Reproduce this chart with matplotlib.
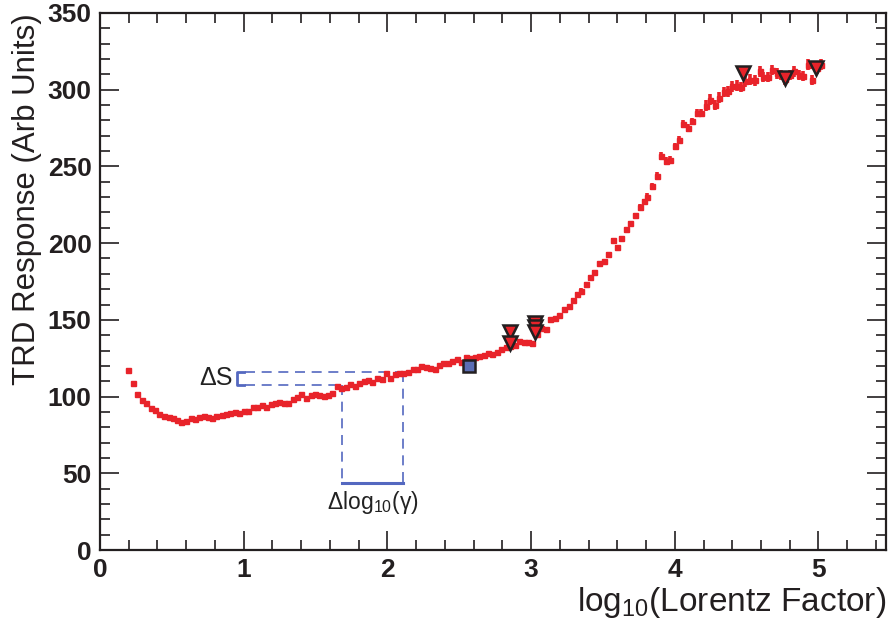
import matplotlib
matplotlib.use("Agg")
import matplotlib.pyplot as plt
from matplotlib.ticker import MultipleLocator

plt.rcParams["font.family"] = ["Liberation Sans", "DejaVu Sans"]
plt.rcParams["mathtext.fontset"] = "custom"
plt.rcParams["mathtext.rm"] = "Liberation Sans"
plt.rcParams["mathtext.it"] = "Liberation Sans:italic"

# TRD response vs log10(gamma)
log_gamma = [
    0.197, 0.227, 0.255, 0.29, 0.32, 0.355, 0.38, 0.41, 0.447, 0.48,
    0.51, 0.537, 0.563, 0.598, 0.63, 0.66, 0.69, 0.723, 0.753, 0.78,
    0.81, 0.846, 0.876, 0.904, 0.94, 0.97, 1.0, 1.03, 1.066, 1.094,
    1.124, 1.154, 1.187, 1.217, 1.247, 1.28, 1.31, 1.34, 1.372, 1.40,
    1.433, 1.465, 1.495, 1.525, 1.558, 1.588, 1.618, 1.65, 1.68, 1.71,
    1.743, 1.773, 1.803, 1.836, 1.866, 1.896, 1.928, 1.96, 1.99, 2.02,
    2.05, 2.08, 2.11, 2.14, 2.175, 2.207, 2.237, 2.267, 2.30, 2.33,
    2.36, 2.39, 2.42, 2.45, 2.485, 2.515, 2.545, 2.578, 2.608, 2.638,
    2.67, 2.70, 2.73, 2.763, 2.793, 2.823, 2.856, 2.886, 2.916, 2.948,
    2.978, 3.009, 3.04, 3.07, 3.106, 3.134, 3.164, 3.194,
    3.227, 3.261, 3.29, 3.32, 3.35, 3.385, 3.41, 3.44, 3.47, 3.507,
    3.535, 3.57, 3.597, 3.628, 3.663, 3.69, 3.725, 3.755, 3.786,
    3.81, 3.84, 3.875, 3.905, 3.936, 3.97, 4.0, 4.03, 4.06, 4.09,
    4.12, 4.154, 4.184,
    4.214, 4.247, 4.277, 4.307, 4.34, 4.37, 4.40, 4.43, 4.46, 4.49,
    4.525, 4.555, 4.59, 4.617, 4.648, 4.68, 4.71, 4.74, 4.77, 4.80,
    4.83, 4.863, 4.895, 4.925, 4.956, 4.988, 5.018,
]
response = [
    117.3, 109, 102, 97.8, 96, 92.4, 91.3, 88.4, 87.4, 86.5,
    85.8, 84.8, 83.6, 84.3, 85.8, 85.2, 86.5, 87.4, 86.5, 85.8,
    87.4, 88, 88.7, 89.1, 90.2, 89.5, 90.8, 90.8, 93, 93.4,
    94.5, 93.4, 95.2, 95.8, 96.7, 95.6, 96, 98.4, 99.5, 101.7,
    98.9, 101, 101.7, 101, 100.4, 101, 102.2, 106.9, 105.4, 106,
    108, 106.9, 109, 110.4, 110.8, 109.7, 112.3, 111.5, 115.2, 111.9,
    114.7, 115.6, 115.6, 116.2, 117.8, 118, 120, 119.3, 118.4, 117.8,
    120.6, 122.1, 122.1, 123.4, 124.3, 122.8, 125.6, 125, 126, 126.5,
    127.1, 128.6, 127.8, 129.3, 130.8, 132.1, 133, 133.6, 136.4, 135.8,
    135.8, 134.7, 141, 145, 143.9, 150.4, 151.5, 153.2,
    156.9, 159, 163, 166.7, 169, 173.2, 177.7, 181, 186.9, 188.4,
    193, 202, 197.3, 203.2, 209, 213, 218.4, 223.8, 227.2,
    230, 237, 243.6, 256.6, 253.6, 254.2, 263, 267.5, 277.7, 275.2,
    279.3, 284.7, 285,
    289.5, 293.5, 290, 294.7, 298.5, 299, 302.2, 302.6, 301.8, 305.5,
    306.6, 306.1, 312, 308.3, 308.3, 312.9, 310.7, 309.6, 306.8, 309.6,
    312, 309.6, 309, 316.2, 306.4, 314, 316.2,
]
response_err = [
    0.6, 0.6, 0.6, 0.6, 0.6, 0.6, 0.6, 0.6, 0.6, 0.6,
    0.6, 0.6, 0.6, 0.6, 0.6, 0.6, 0.6, 0.6, 0.6, 0.6,
    0.6, 0.6, 0.6, 0.6, 0.6, 0.6, 0.6, 0.6, 0.6, 0.6,
    0.6, 0.6, 0.6, 0.6, 0.6, 0.6, 0.6, 0.6, 0.6, 0.6,
    0.6, 0.6, 0.6, 0.6, 0.6, 0.6, 0.6, 0.6, 0.6, 0.6,
    0.6, 0.6, 0.6, 0.6, 0.6, 0.6, 0.6, 0.6, 0.6, 0.6,
    0.6, 0.6, 0.6, 0.6, 0.6, 0.6, 0.6, 0.6, 0.6, 0.6,
    0.6, 0.6, 0.6, 0.6, 0.6, 0.6, 0.6, 0.6, 0.6, 0.6,
    0.6, 0.6, 0.6, 0.6, 0.6, 0.6, 0.6, 0.6, 0.6, 0.6,
    0.6, 0.6, 0.6, 0.6, 0.6, 0.6, 0.6, 0.6,
    1.5, 1.5, 1.5, 1.5, 1.5, 1.5, 1.5, 1.5, 1.5, 1.5,
    1.5, 1.5, 1.5, 1.5, 1.5, 1.5, 1.5, 1.5, 1.5,
    2.5, 2.5, 2.5, 2.5, 2.5, 2.5, 2.5, 2.5, 2.5, 2.5,
    2.5, 2.5, 2.5,
    3.5, 3.5, 3.5, 3.5, 3.5, 3.5, 3.5, 3.5, 3.5, 3.5,
    3.5, 3.5, 3.5, 3.5, 3.5, 3.5, 3.5, 3.5, 3.5, 3.5,
    3.5, 3.5, 3.5, 3.5, 3.5, 3.5, 3.5,
]

# other measurements (triangles) and the reference point (square)
tri_x = [2.851, 2.851, 3.025, 3.025, 3.025, 4.474, 4.77, 4.984]
tri_y = [142.0, 134.8, 147.8, 145.6, 141.9, 310.7, 307.4, 314.0]
ref_x = [2.566]
ref_y = [120.0]

# Delta S / Delta log10(gamma) construction
ds_lo, ds_hi = 107.4, 116.2
lg_lo, lg_hi = 1.685, 2.11
bracket_x = 0.955
base_y = 43.8

red = "#e8232a"
blue = "#5468c0"
dark = "#231f20"

fig = plt.figure(figsize=(8.88, 6.20), dpi=100)
ax = fig.add_axes([100 / 888, 70 / 620, 786 / 888, 537 / 620])

ax.errorbar(log_gamma, response, yerr=response_err, fmt="s", ms=3.6,
            color=red, mec=red, ecolor=red, elinewidth=2.6, capsize=0, zorder=3)

# dashed construction lines
dash = dict(color=blue, lw=1.2, ls=(0, (6, 4)), zorder=2)
ax.plot([1.01, lg_hi], [ds_hi, ds_hi], **dash)
ax.plot([1.01, lg_lo], [ds_lo, ds_lo], **dash)
ax.plot([lg_lo, lg_lo], [ds_lo, base_y], **dash)
ax.plot([lg_hi, lg_hi], [ds_hi, base_y], **dash)
ax.plot([1.0, bracket_x, bracket_x, 1.0], [ds_hi, ds_hi, ds_lo, ds_lo],
        color=blue, lw=2.0, zorder=2)
ax.plot([lg_lo, lg_hi], [base_y, base_y], color=blue, lw=2.2, zorder=2)
ax.text(0.925, (ds_lo + ds_hi) / 2, "ΔS", ha="right", va="center",
        fontsize=18, color="#222222")
ax.text((lg_lo + lg_hi) / 2, 31, r"Δlog$_{10}$(γ)", ha="center", va="center",
        fontsize=16.5, color="#222222")

ax.plot(tri_x, tri_y, "v", ms=10, mfc=red, mec=dark, mew=1.8, zorder=4)
ax.plot(ref_x, ref_y, "s", ms=9, mfc="#5b6eb5", mec=dark, mew=1.8, zorder=4)

ax.set_xlim(0, 5.47)
ax.set_ylim(0, 350)
ax.xaxis.set_major_locator(MultipleLocator(1))
ax.xaxis.set_minor_locator(MultipleLocator(0.2))
ax.yaxis.set_major_locator(MultipleLocator(50))
ax.yaxis.set_minor_locator(MultipleLocator(10))
ax.tick_params(which="both", direction="in", top=True, right=True,
               width=1.2, color=dark, labelsize=19, pad=6)
ax.tick_params(which="major", length=14)
ax.tick_params(which="minor", length=7)
for lab in ax.get_xticklabels() + ax.get_yticklabels():
    lab.set_fontweight("bold")
    lab.set_color(dark)
for sp in ax.spines.values():
    sp.set_linewidth(1.6)
    sp.set_color(dark)

ax.set_xlabel(r"log$_{10}$(Lorentz Factor)", loc="right", fontsize=24,
              color=dark, labelpad=2)
ax.set_ylabel("TRD Response (Arb Units)", loc="top", fontsize=22.5,
              color=dark, labelpad=4)

fig.savefig("out.png", dpi=100)
